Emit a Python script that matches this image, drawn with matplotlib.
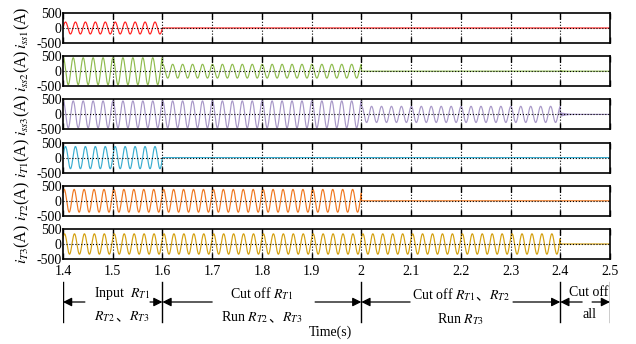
import numpy as np
import matplotlib.pyplot as plt
from matplotlib.offsetbox import TextArea, HPacker, AnnotationBbox

plt.rcParams['font.family'] = ['Liberation Serif', 'Noto Sans CJK SC']
plt.rcParams['mathtext.fontset'] = 'stix'

# switching instants (s) and 50 Hz grid
seg_edges = [1.4, 1.6, 2.0, 2.4, 2.5]
freq = 50.0

labels = [r'$i_{ss1}$(A)', r'$i_{ss2}$(A)', r'$i_{ss3}$(A)',
          r'$i_{T1}$(A)', r'$i_{T2}$(A)', r'$i_{T3}$(A)']
colors = ['#ff2020', '#8fbc4f', '#a898c8', '#3aaed0', '#f07820', '#d4a010']
# peak current in each of the four intervals
amps = [
    [200, 0, 0, 0],
    [450, 230, 0, 0],
    [450, 450, 270, 0],
    [370, 0, 0, 0],
    [380, 380, 0, 0],
    [340, 340, 340, 0],
]
phases = [0.0, 1.4, 1.4, 0.0, 0.8, 0.6]
# small decaying transient after 2.4 s (amplitude, time constant)
trans = [0, 20, 70, 0, 0, 0]
trans_tau = 0.01

xticks = [1.4, 1.5, 1.6, 1.7, 1.8, 1.9, 2, 2.1, 2.2, 2.3, 2.4, 2.5]
xticklabels = ['1.4', '1.5', '1.6', '1.7', '1.8', '1.9', '2', '2.1', '2.2', '2.3', '2.4', '2.5']

t = np.linspace(1.4, 2.5, 8000)

W, H = 636, 344
fig = plt.figure(figsize=(W / 100, H / 100), dpi=100)

left, right = 63, 610
axes = []
for i in range(6):
    top = 13 + i * 43.2
    h = 30
    ax = fig.add_axes([left / W, 1 - (top + h) / H, (right - left) / W, h / H])
    a = np.zeros_like(t)
    for k in range(4):
        m = (t >= seg_edges[k]) & (t < seg_edges[k + 1] + 1e-9)
        a[m] = amps[i][k]
    y = a * np.sin(2 * np.pi * freq * (t - 1.4) + phases[i])
    m = t >= 2.4
    y[m] += trans[i] * np.exp(-(t[m] - 2.4) / trans_tau) * np.sin(2 * np.pi * 400 * (t[m] - 2.4))
    ax.plot(t, y, color=colors[i], lw=0.85)
    ax.set_xlim(1.4, 2.5)
    ax.set_ylim(-500, 500)
    ax.set_yticks([-500, 0, 500])
    ax.set_yticklabels(['-500', '0', '500'])
    ax.set_xticks(xticks)
    for xv in xticks[1:-1]:
        ax.axvline(xv, color='k', ls=':', lw=0.8)
    ax.axhline(0, color='k', ls=':', lw=0.8)
    ax.tick_params(direction='in', top=True, length=4, width=1, labelsize=10, pad=4)
    ax.tick_params(axis='y', length=0, pad=1)
    for s in ax.spines.values():
        s.set_linewidth(1.2)
    if i < 5:
        ax.set_xticklabels([])
    else:
        ax.set_xticklabels(xticklabels)
    ax.set_ylabel(labels[i], fontsize=11.3)
    axes.append(ax)

for ax in axes:
    ax.yaxis.set_label_coords(-0.057, 0.5)

# annotation strip below the time axis
an = fig.add_axes([left / W, 1 - 324 / H, (right - left) / W, 44 / H])
an.set_xlim(1.4, 2.5)
an.set_ylim(0, 1)
an.axis('off')

for xv in seg_edges:
    an.plot([xv, xv], [0.05, 0.95], color='k', lw=1)

arr_y = 0.5
# (tail, head) of each arrow
arrows = [(1.444, 1.4), (1.575, 1.6), (1.70, 1.6), (1.907, 2.0),
          (2.098, 2.0), (2.305, 2.4), (2.444, 2.4), (2.464, 2.5)]
for x0, x1 in arrows:
    an.annotate('', xy=(x1, arr_y), xytext=(x0, arr_y),
                arrowprops=dict(arrowstyle='-|>', color='k', lw=0.9,
                                mutation_scale=13, shrinkA=0, shrinkB=0))

fs = 10


def mixed(x, y, parts):
    # mathtext pieces and the CJK comma drawn side by side
    boxes = [TextArea(p, textprops=dict(fontsize=fs)) for p in parts]
    pk = HPacker(children=boxes, align='baseline', pad=0, sep=0)
    an.add_artist(AnnotationBbox(pk, (x, y), xycoords='data', frameon=False,
                                 box_alignment=(0.5, 0.5), pad=0))


mixed(1.518, 0.70, [r'Input  $R_{T1}$'])
mixed(1.518, 0.16, [r'$R_{T2}$', '、', r'$R_{T3}$'])
mixed(1.80, 0.70, [r'Cut off $R_{T1}$'])
mixed(1.80, 0.16, [r'Run $R_{T2}$', '、', r'$R_{T3}$'])
mixed(2.20, 0.66, [r'Cut off $R_{T1}$', '、', r'$R_{T2}$'])
mixed(2.20, 0.11, [r'Run $R_{T3}$'])
mixed(2.458, 0.72, ['Cut off'])
mixed(2.458, 0.22, ['all'])

fig.text(330 / W, 1 - 332 / H, 'Time(s)', ha='center', va='center', fontsize=fs)

fig.savefig('out.png', dpi=100)
